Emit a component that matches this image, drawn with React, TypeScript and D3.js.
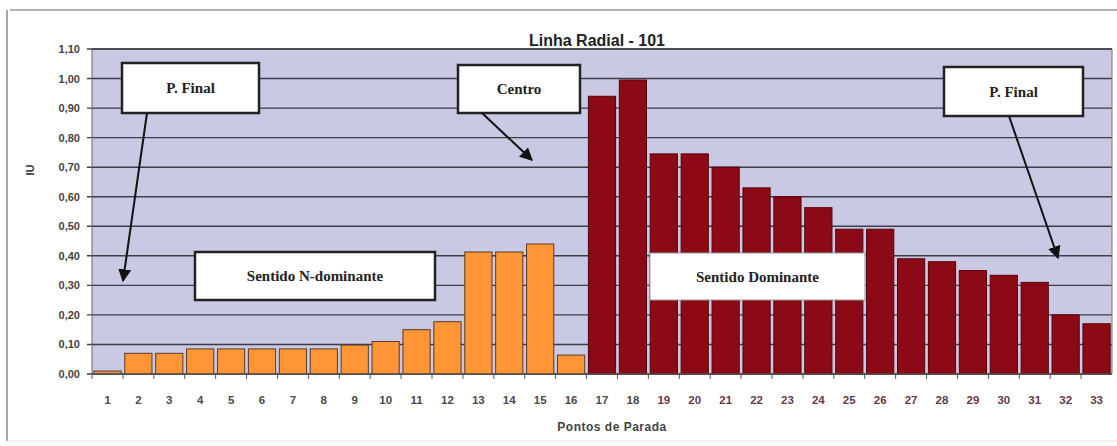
import React from "react";
import * as d3 from "d3";

const categories = Array.from({ length: 33 }, (_, i) => String(i + 1));
const values = [
  0.01, 0.07, 0.07, 0.085, 0.085, 0.085, 0.085, 0.085, 0.098, 0.11, 0.15, 0.177,
  0.413, 0.413, 0.44, 0.064,
  0.94, 0.995, 0.745, 0.745, 0.70, 0.63, 0.60, 0.563, 0.49, 0.49, 0.39, 0.38,
  0.35, 0.334, 0.31, 0.20, 0.17,
];
const dominantFrom = 17; // stops 17.. are "Sentido Dominante"
const yTicks = [0, 0.1, 0.2, 0.3, 0.4, 0.5, 0.6, 0.7, 0.8, 0.9, 1.0, 1.1];

const W = 1117;
const H = 446;
const plot = { left: 92, right: 1112, top: 49, bottom: 374 };

const annotations = [
  { text: "P. Final", x0: 122, y0: 63, x1: 259, y1: 113, ax0: 147, ay0: 113, ax1: 123, ay1: 281, border: "#222", sw: 2.5 },
  { text: "Centro", x0: 458, y0: 65, x1: 580, y1: 113, ax0: 482, ay0: 113, ax1: 532, ay1: 160, border: "#222", sw: 2.5 },
  { text: "P. Final", x0: 944, y0: 67, x1: 1083, y1: 116, ax0: 1009, ay0: 116, ax1: 1058, ay1: 258, border: "#222", sw: 2.5 },
  { text: "Sentido N-dominante", x0: 195, y0: 252, x1: 435, y1: 300, border: "#222", sw: 2.5 },
  { text: "Sentido Dominante", x0: 650, y0: 253, x1: 865, y1: 300, border: "#999", sw: 1 },
];

export default function App() {
  const x = d3.scaleBand<string>().domain(categories).range([plot.left, plot.right]).paddingInner(0.12).paddingOuter(0.06);
  const y = d3.scaleLinear().domain([0, 1.1]).range([plot.bottom, plot.top]);
  const bandStarts = categories.map((_, i) => plot.left + i * ((plot.right - plot.left) / categories.length));
  const fmt = (v: number) => v.toFixed(2).replace(".", ",");

  return (
    <svg width={W} height={H} style={{ position: "absolute", left: 0, top: 0, background: "#fff" }}>
      <defs>
        <marker id="arr" viewBox="0 0 10 10" refX="9" refY="5" markerWidth="6.5" markerHeight="6.5" orient="auto-start-reverse">
          <path d="M0,0 L10,5 L0,10 z" fill="#111" />
        </marker>
      </defs>
      {/* outer frame */}
      <line x1={10} x2={1117} y1={10} y2={10} stroke="#999" strokeWidth={1.5} />
      <line x1={7} x2={7} y1={10} y2={441} stroke="#888" strokeWidth={1.5} />
      <line x1={7} x2={1117} y1={441} y2={441} stroke="#ddd" strokeWidth={1} />

      {/* plot background */}
      <rect x={plot.left} y={plot.top} width={plot.right - plot.left} height={plot.bottom - plot.top} fill="#c9c9e4" />
      {yTicks.map((t) => (
        <g key={t}>
          <line x1={plot.left - 5} x2={plot.right} y1={y(t)} y2={y(t)} stroke="#3e3e4a" strokeWidth={1.4} />
          <text x={80} y={y(t) + 4} textAnchor="end" fontFamily="Arial, Liberation Sans, sans-serif" fontWeight="bold" fontSize={11} fill="#444">
            {fmt(t)}
          </text>
        </g>
      ))}
      <line x1={plot.right} x2={plot.right} y1={plot.top} y2={plot.bottom} stroke="#777" strokeWidth={1} />
      <line x1={plot.left} x2={plot.right} y1={plot.top} y2={plot.top} stroke="#444" strokeWidth={1.5} />

      {/* bars */}
      {values.map((v, i) => {
        const cat = categories[i];
        const dom = i + 1 >= dominantFrom;
        return (
          <rect
            key={cat}
            x={x(cat)}
            y={y(v)}
            width={x.bandwidth()}
            height={y(0) - y(v)}
            fill={dom ? "#8c0a16" : "#ff9535"}
            stroke={dom ? "#5a0008" : "#5a3a2a"}
            strokeWidth={1}
          />
        );
      })}
      <line x1={plot.left} x2={plot.left} y1={plot.top} y2={plot.bottom} stroke="#666" strokeWidth={1} />
      <line x1={plot.left} x2={plot.right} y1={plot.bottom} y2={plot.bottom} stroke="#555" strokeWidth={1.5} />
      {bandStarts.map((bx, i) => (
        <line key={i} x1={bx} x2={bx} y1={plot.bottom} y2={plot.bottom + 5} stroke="#555" strokeWidth={1} />
      ))}
      {categories.map((c, i) => (
        <text
          key={c}
          x={(x(c) as number) + x.bandwidth() / 2}
          y={404}
          textAnchor="middle"
          fontFamily="Arial, Liberation Sans, sans-serif"
          fontWeight="bold"
          fontSize={11.5}
          fill={i + 1 >= 19 ? "#6a3848" : "#4a4a4a"}
        >
          {c}
        </text>
      ))}

      {/* titles */}
      <text x={597} y={46} textAnchor="middle" fontFamily="Arial, Liberation Sans, sans-serif" fontWeight="bold" fontSize={16} fill="#222">
        Linha Radial - 101
      </text>
      <text x={612} y={431} textAnchor="middle" fontFamily="Arial, Liberation Sans, sans-serif" fontWeight="bold" fontSize={12} fill="#444" letterSpacing={0.5}>
        Pontos de Parada
      </text>
      <text transform="translate(34,170) rotate(-90)" textAnchor="middle" fontFamily="Arial, Liberation Sans, sans-serif" fontWeight="bold" fontSize={11} fill="#333">
        IU
      </text>

      {/* annotations */}
      {annotations.map((a, i) => (
        <g key={i}>
          <rect x={a.x0} y={a.y0} width={a.x1 - a.x0} height={a.y1 - a.y0} fill="#fff" stroke={a.border} strokeWidth={a.sw} />
          <text
            x={(a.x0 + a.x1) / 2}
            y={(a.y0 + a.y1) / 2 + 5}
            textAnchor="middle"
            fontFamily="Liberation Serif, Times New Roman, serif"
            fontWeight="bold"
            fontSize={15}
            fill="#222"
          >
            {a.text}
          </text>
          {a.ax0 !== undefined && (
            <line x1={a.ax0} y1={a.ay0} x2={a.ax1} y2={a.ay1} stroke="#111" strokeWidth={2} markerEnd="url(#arr)" />
          )}
        </g>
      ))}
    </svg>
  );
}
